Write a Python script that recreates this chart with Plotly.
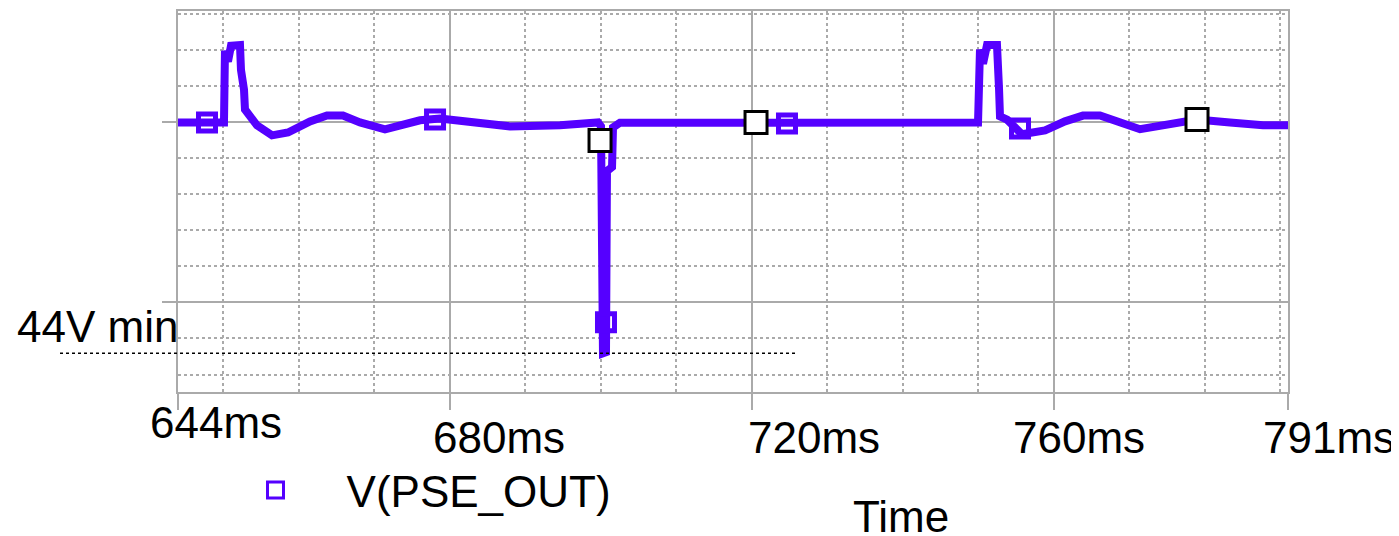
import plotly.graph_objects as go

# ---- data (time in ms, voltage in V) ----
time_ms = [644.0, 650.09, 650.22, 650.62, 651.02, 652.21, 652.34, 652.74, 652.87, 653.54,
           654.46, 656.45, 658.57, 661.48, 663.73, 665.85, 668.10, 671.41, 676.05, 678.70,
           687.97, 694.59, 699.62, 700.02, 700.28, 700.68, 700.81, 701.48, 701.61, 702.53,
           721.08, 749.95, 750.21, 750.61, 751.14, 752.46, 752.73, 752.86, 753.79, 755.77,
           758.82, 761.47, 763.85, 766.10, 771.40, 775.37, 778.95, 783.32, 787.69, 791.0]
volts = [50.00, 50.00, 51.99, 51.69, 52.13, 52.15, 51.46, 50.91, 50.36, 50.14,
         49.92, 49.64, 49.72, 50.03, 50.19, 50.19, 50.00, 49.81, 50.06, 50.11,
         49.89, 49.92, 50.00, 49.89, 43.59, 43.62, 48.65, 48.76, 49.86, 49.99,
         49.99, 50.00, 52.02, 51.63, 52.15, 52.15, 50.94, 50.17, 50.08, 49.67,
         49.78, 50.03, 50.19, 50.19, 49.81, 49.97, 50.08, 50.00, 49.92, 49.92]

marker_ms = [647.84, 678.04, 700.68, 724.65, 755.51]
marker_v = [50.00, 50.08, 44.45, 49.97, 49.83]

cursor_ms = [699.89, 720.55, 778.95]
cursor_v = [49.50, 50.00, 50.08]

tick_values = [644, 680, 720, 760, 791]
tick_labels = ["644ms", "680ms", "720ms", "760ms", "791ms"]
tick_label_shift = [38, 49, 62, 25, 41]
tick_label_y = [-0.081, -0.120, -0.120, -0.120, -0.120]

min_level_v = 43.59
min_label = "44V min"
series_name = "V(PSE_OUT)"
x_title = "Time"

PURPLE = "#5500FF"
GRID = "#AAAAAA"
FONT = "Liberation Sans, Arial, sans-serif"

fig = go.Figure()
fig.add_trace(go.Scatter(x=time_ms, y=volts, mode="lines",
                         line=dict(color=PURPLE, width=8), showlegend=False,
                         hoverinfo="skip"))
fig.add_trace(go.Scatter(x=marker_ms, y=marker_v, mode="markers",
                         marker=dict(symbol="square-open", size=17, color=PURPLE,
                                     line=dict(width=5, color=PURPLE)),
                         showlegend=False))
fig.add_trace(go.Scatter(x=cursor_ms, y=cursor_v, mode="markers",
                         marker=dict(symbol="square", size=22, color="white",
                                     line=dict(width=3, color="black")),
                         showlegend=False))
fig.add_trace(go.Scatter(x=[None], y=[None], mode="markers", name=series_name,
                         marker=dict(symbol="square-open", size=16, color=PURPLE,
                                     line=dict(width=3, color=PURPLE)),
                         showlegend=True))

# page body adds an 8px offset, so the figure is 8px smaller and margins shifted
fig.update_layout(
    width=1391, height=528, autosize=False,
    margin=dict(l=170, r=111, t=1, b=144, pad=0),
    paper_bgcolor="white", plot_bgcolor="white",
    font=dict(family=FONT, size=44, color="black"),
    showlegend=True,
    legend=dict(x=0.0239, y=-0.2585, xanchor="left", yanchor="middle",
                bgcolor="rgba(0,0,0,0)", borderwidth=0, itemwidth=132,
                font=dict(family=FONT, size=44, color="black")),
)

fig.update_xaxes(range=[644, 791], tickmode="array", tickvals=tick_values,
                 showticklabels=False, ticks="outside", ticklen=16, tickwidth=2,
                 tickcolor=GRID, showgrid=True, gridcolor=GRID, gridwidth=2,
                 zeroline=False, showline=True, linecolor=GRID, linewidth=2,
                 mirror=True,
                 minor=dict(tickmode="linear", tick0=0, dtick=10, showgrid=True,
                            gridcolor=GRID, gridwidth=2, griddash="dot", ticks=""))
fig.update_yaxes(range=[42.514, 53.094], tickmode="array", tickvals=[45, 50],
                 showticklabels=False, ticks="outside", ticklen=14, tickwidth=2,
                 tickcolor=GRID, showgrid=True, gridcolor=GRID, gridwidth=2,
                 zeroline=False, showline=True, linecolor=GRID, linewidth=2,
                 mirror=True,
                 minor=dict(tickmode="linear", tick0=0, dtick=1, showgrid=True,
                            gridcolor=GRID, gridwidth=2, griddash="dot", ticks=""))

for val, lab, sh, yy in zip(tick_values, tick_labels, tick_label_shift, tick_label_y):
    fig.add_annotation(x=val, xref="x", xshift=sh, y=yy, yref="paper",
                       text=lab, showarrow=False, xanchor="center", yanchor="middle",
                       font=dict(family=FONT, size=44, color="black"))

fig.add_annotation(x=0.6514, xref="paper", y=-0.3264, yref="paper", text=x_title,
                   showarrow=False, xanchor="center", yanchor="middle",
                   font=dict(family=FONT, size=44, color="black"))

fig.add_annotation(x=-0.147, xref="paper", y=0.172, yref="paper", text=min_label,
                   showarrow=False, xanchor="left", yanchor="middle",
                   font=dict(family=FONT, size=44, color="black"))

fig.add_shape(type="line", xref="paper", yref="y", x0=-0.1063, x1=0.5559,
              y0=min_level_v, y1=min_level_v,
              line=dict(color="black", width=1.5, dash="dot"), layer="above")

fig.write_html("out.html")
